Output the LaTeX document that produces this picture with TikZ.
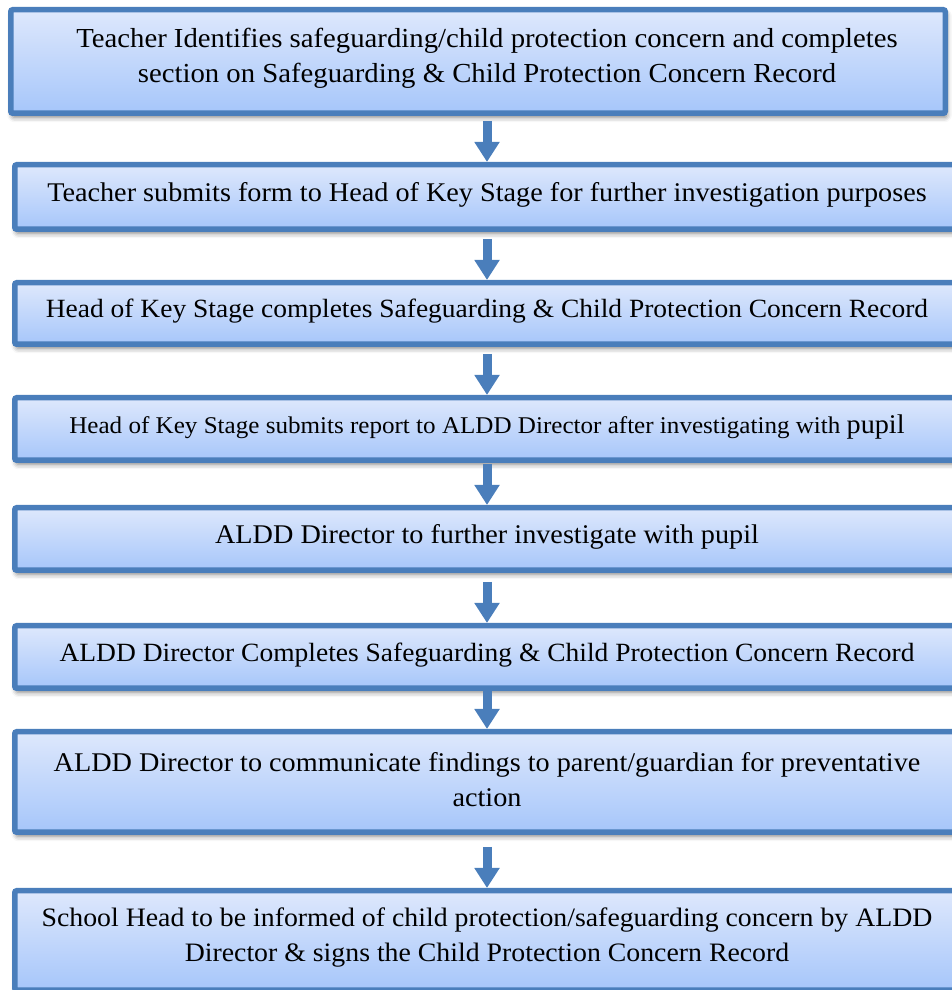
\documentclass[tikz,border=0pt]{standalone}
\usepackage{fontspec}
\setmainfont[FakeStretch=1.045]{Liberation Serif}
\usetikzlibrary{arrows.meta,shadows.blur}

\definecolor{edgeblue}{RGB}{74,126,187}
\definecolor{filltop}{RGB}{222,232,252}
\definecolor{fillbot}{RGB}{166,198,250}

\tikzset{
  stepbox/.style={draw=edgeblue, line width=5.5pt, rounded corners=2pt,
    top color=filltop, bottom color=fillbot, inner sep=0pt,
    blur shadow={shadow xshift=1.5pt, shadow yshift=-4pt,
      shadow blur radius=5pt, shadow opacity=50}},
  steptext/.style={font=\fontsize{27}{35}\selectfont, align=center, inner sep=0pt},
  textsize/.style={font=\fontsize{#1}{35}\selectfont},
  flow/.style={draw=edgeblue, line width=9pt,
    -{Triangle[width=24pt,length=20pt]}}
}

\begin{document}
\begin{tikzpicture}[x=1pt,y=1pt]
  \useasboundingbox (0,0) rectangle (952,990);
  \clip (0,0) rectangle (952,990);

  % step boxes
  \node[stepbox, minimum width=934.5pt, minimum height=103.5pt] (b1) at (478,928.5) {};
  \node[stepbox, minimum width=944.5pt, minimum height=64.5pt]  (b2) at (487,793) {};
  \node[stepbox, minimum width=944.5pt, minimum height=61.5pt]  (b3) at (487,676.5) {};
  \node[stepbox, minimum width=944.5pt, minimum height=62.5pt]  (b4) at (487,561) {};
  \node[stepbox, minimum width=944.5pt, minimum height=62.5pt]  (b5) at (487,451) {};
  \node[stepbox, minimum width=944.5pt, minimum height=62.5pt]  (b6) at (487,333) {};
  \node[stepbox, minimum width=944.5pt, minimum height=100.5pt] (b7) at (487,208) {};
  \node[stepbox, minimum width=944.5pt, minimum height=99.5pt]  (b8) at (487,49.5) {};

  % step texts
  \node[steptext, textsize=27.5] (t1) at (487,932) {Teacher Identifies safeguarding/child protection concern and completes\\section on Safeguarding \& Child Protection Concern Record};
  \node[steptext] (t2) at (487,795) {Teacher submits form to Head of Key Stage for further investigation purposes};
  \node[steptext, textsize=26.3] (t3) at (487,678.5) {Head of Key Stage completes Safeguarding \& Child Protection Concern Record};
  \node[steptext, textsize=24] (t4) at (487,563) {Head of Key Stage submits report to ALDD Director after investigating with {\fontsize{27}{35}\selectfont pupil}};
  \node[steptext] (t5) at (487,453) {ALDD Director to further investigate with pupil};
  \node[steptext, textsize=26.3] (t6) at (487,335) {ALDD Director Completes Safeguarding \& Child Protection Concern Record};
  \node[steptext] (t7) at (487,210.5) {ALDD Director to communicate findings to parent/guardian for preventative\\action};
  \node[steptext, textsize=26.6] (t8) at (487,52.5) {School Head to be informed of child protection/safeguarding concern by ALDD\\Director \& signs the Child Protection Concern Record};

  % flow arrows
  \foreach \nxt in {b2,b3,b4,b5,b6,b7,b8}
    \draw[flow] ([yshift=41pt]\nxt.north) -- (\nxt.north);
\end{tikzpicture}
\end{document}
